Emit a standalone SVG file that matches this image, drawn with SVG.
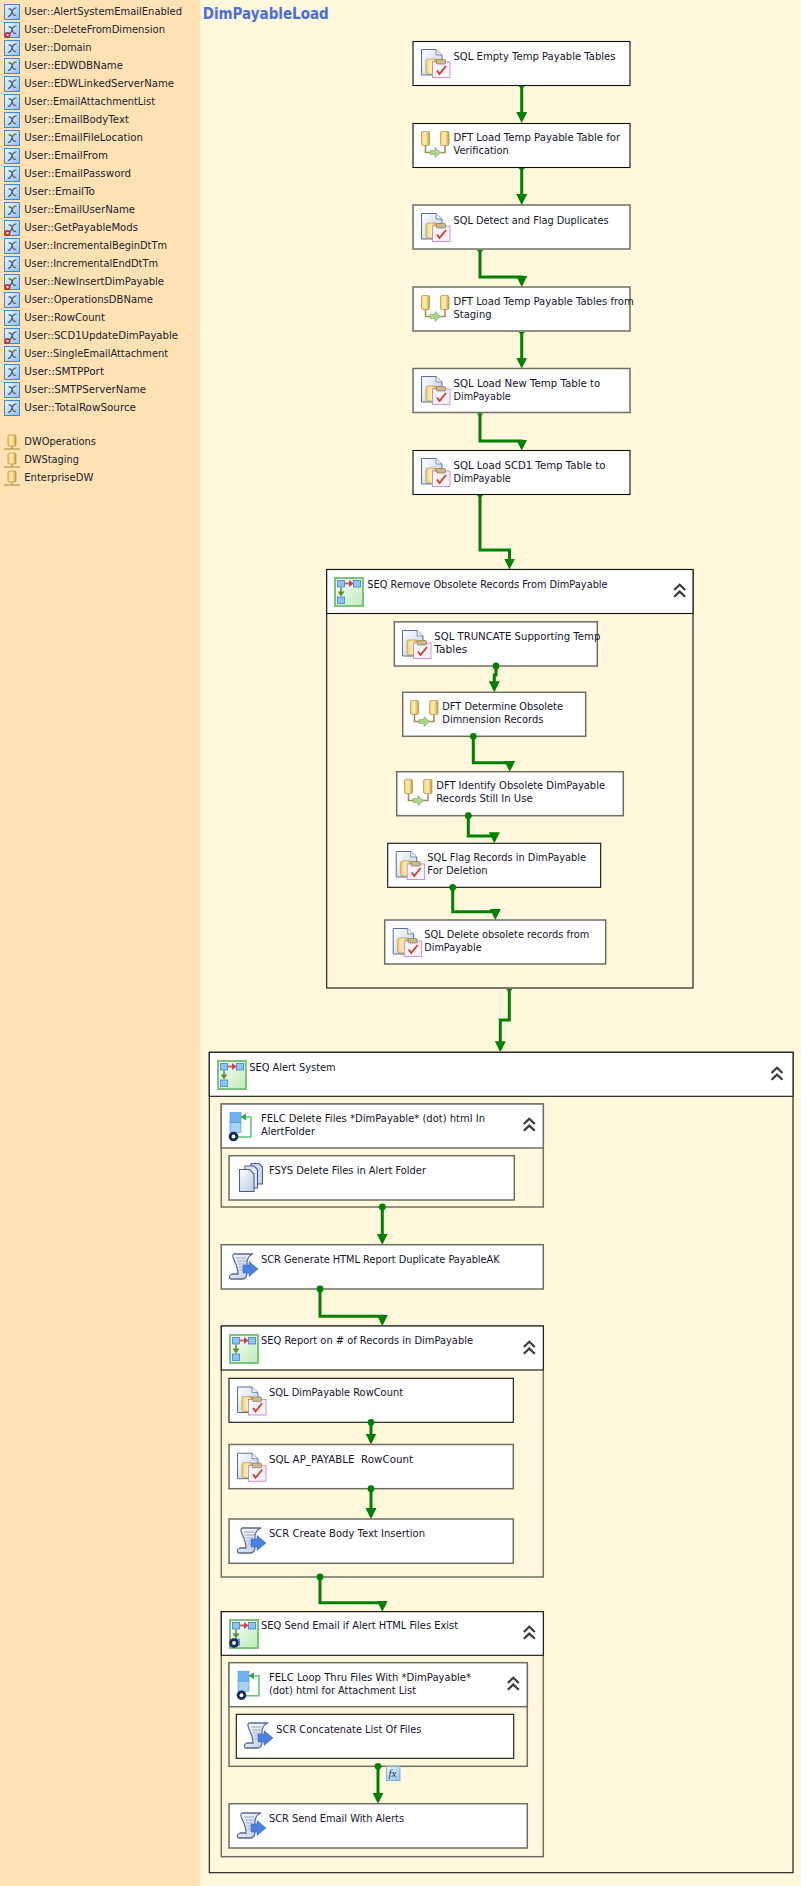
<svg xmlns="http://www.w3.org/2000/svg" width="801" height="1886" viewBox="0 0 801 1886">
<style>
text{font-family:"DejaVu Sans","Noto Sans",sans-serif;font-size:11px;fill:#14142a;white-space:pre}
.title{font-family:"DejaVu Sans",sans-serif;font-size:15px;font-weight:bold;fill:#4a6fdc}
.v{font-size:11px;fill:#20202c}
.fx{font-family:"Liberation Serif",serif;font-style:italic;font-size:11px;fill:#234}
.k{fill:#fff;stroke:#101010;stroke-width:1.1}
.g{fill:#fff;stroke:#6f6f62;stroke-width:1.5}
.cb{fill:#fff8dc;stroke:#101010;stroke-width:1.1}
.cg{fill:#fff8dc;stroke:#6f6f62;stroke-width:1.5}
.c{fill:none;stroke:#008000;stroke-width:3}
.a{marker-end:url(#arrow)}
.s{marker-start:url(#cap)}
.d{marker-start:url(#dot)}
</style>
<defs>
<marker id="arrow" markerUnits="userSpaceOnUse" markerWidth="12" markerHeight="12" viewBox="0 0 12 12" refX="8" refY="6" orient="auto"><path d="M0,0.5 L11,6 L0,11.5 Z" fill="#008000"/></marker>
<marker id="cap" markerUnits="userSpaceOnUse" markerWidth="8" markerHeight="8" viewBox="-4 -4 8 8" refX="0" refY="0" orient="auto"><path d="M0,-3.3 L3,0 L0,3.3 Z" fill="#008000"/></marker>
<marker id="dot" markerUnits="userSpaceOnUse" markerWidth="8" markerHeight="8" viewBox="-4 -4 8 8" refX="0" refY="0" orient="auto"><circle r="3.4" fill="#008000"/></marker>
<linearGradient id="gb" x1="0" y1="0" x2="1" y2="1"><stop offset="0" stop-color="#f2f8ff"/><stop offset="1" stop-color="#8cc0ee"/></linearGradient>
<linearGradient id="gy" x1="0" y1="0" x2="1" y2="0"><stop offset="0" stop-color="#f4d070"/><stop offset=".5" stop-color="#fdf0b8"/><stop offset="1" stop-color="#d09a30"/></linearGradient>
<linearGradient id="gd" x1="0" y1="0" x2="1" y2="1"><stop offset="0" stop-color="#ffffff"/><stop offset="1" stop-color="#bccbe6"/></linearGradient>
<linearGradient id="gs" x1="0" y1="0" x2="1" y2="1"><stop offset="0" stop-color="#ffffff"/><stop offset="1" stop-color="#bdeab5"/></linearGradient>
<g id="var"><rect x=".5" y=".5" width="15" height="15" fill="url(#gb)" stroke="#3f86d8"/><path d="M4,12.5 C6,12.5 7,11 8,8 C9,5 10,3.5 12.5,4 M4.5,5 C7,4.5 8,6 8.5,8.5 C9,11 10,12 12,11" fill="none" stroke="#4a4f5c" stroke-width="1.1"/></g>
<g id="varm"><use href="#var"/><circle cx="3.5" cy="13" r="3" fill="#d02818"/><circle cx="3.5" cy="13" r="1.2" fill="#fff"/></g>
<g id="conn"><path d="M0,15 H16 M8,12 V15" stroke="#a0842a" fill="none"/><rect x="4" y="1" width="8" height="11" rx="1.5" fill="url(#gy)" stroke="#b08a30" stroke-width=".7"/></g>
<g id="sql"><path d="M.5,.5 H15 L21,6 V26 H.5 Z" fill="url(#gd)" stroke="#5a6e9c"/><path d="M15,.5 V6 H21" fill="#e8eef8" stroke="#5a6e9c" stroke-width=".7"/><rect x="5" y="10" width="11" height="15" rx="2" fill="url(#gy)" stroke="#b58f3a" stroke-width=".7"/><rect x="11.5" y="13" width="17.5" height="15.5" fill="#f6f3fb" stroke="#c878c8" stroke-width=".8"/><rect x="15.5" y="10.5" width="9" height="4.5" rx="1" fill="#cdb988" stroke="#7c6a3a" stroke-width=".6"/><path d="M16,21.5 L18.5,25 L25,17" fill="none" stroke="#d83a28" stroke-width="1.8"/></g>
<g id="dft"><rect x=".5" y=".5" width="8" height="14" rx="1.5" fill="url(#gy)" stroke="#b58f3a" stroke-width=".7"/><rect x="19.5" y=".5" width="8.5" height="14" rx="1.5" fill="url(#gy)" stroke="#b58f3a" stroke-width=".7"/><path d="M4.5,14.5 V21.5 H24 V14.5" fill="none" stroke="#a58e55" stroke-width="1.6"/><path d="M9,19.5 H14 V16.5 L19.5,21.5 L14,26.5 V23.5 H9 Z" fill="#a8d88a" stroke="#7aa060" stroke-width=".6"/></g>
<g id="seq"><rect x="1" y="1" width="28" height="28" fill="url(#gs)" stroke="#7cc47c" stroke-width="2"/><g fill="#8cc4f4" stroke="#3c80d0" stroke-width=".8"><rect x="3.5" y="3.5" width="7" height="6.5"/><rect x="19.5" y="3.5" width="7" height="6.5"/><rect x="3.5" y="20" width="7" height="6.5"/></g><path d="M11,6.5 H16" stroke="#d85050" stroke-width="1.8"/><path d="M15,3 L19.5,6.5 L15,10 Z" fill="#d04040"/><path d="M7,10.5 V15" stroke="#609040" stroke-width="1.6"/><path d="M3.5,14.5 L7,19.5 L10.5,14.5 Z" fill="#5f8f30"/></g>
<g id="gear"><circle cx="0" cy="0" r="4.8" fill="#1c2c58"/><circle cx="0" cy="0" r="1.9" fill="#fff"/></g>
<g id="felc"><rect x="1" y=".5" width="11" height="10" fill="#6fb4f2" stroke="#4a90e0" stroke-width=".6"/><rect x="1" y="10.500" width="11" height="10" fill="#a4d2f8" stroke="#4a90e0" stroke-width=".6"/><path d="M12,5 H22 V25 H9" fill="none" stroke="#58c870" stroke-width="1.5"/><path d="M11.500,5 L17,1.500 V8.500 Z" fill="#30a848"/><use href="#gear" x="4.500" y="24.500"/></g>
<g id="fsys"><g stroke="#4a5c88" stroke-width="1.1"><path d="M12,.5 H20 L23.500,4 V21 H12 Z" fill="#cdd8ee"/><path d="M6,3 H15 L18.500,6.500 V25 H6 Z" fill="#dfe7f6"/><path d="M.5,6.500 H10.500 L15,11 V28.500 H.5 Z" fill="url(#gd)"/></g></g>
<g id="scr"><path d="M5,1 H24 C21,2 19,4 18,8 V20 C18,24 16,25.500 14,26 H2 C0,26 -.5,22 3,21 H9 C9,16 7,11 5.500,8 C4,5 3,2 5,1 Z" fill="url(#gd)" stroke="#5a6a92" stroke-width="1.3"/><path d="M7,5 H17 M8,8 H17 M9,11 H16 M10,14 H16 M10.500,17 H16" stroke="#98a6c2" stroke-width="1"/><path d="M14,12 H20 V8.500 L29,16 L20,23.500 V20 H14 Z" fill="#4a80e0" stroke="#3060b0" stroke-width=".5"/></g>
<g id="chev"><path d="M-5.500,6 L0,.8 L5.500,6 M-5.500,12.800 L0,7.600 L5.500,12.800" fill="none" stroke="#3a3a36" stroke-width="2.2"/></g>
</defs>

<rect width="801" height="1886" fill="#fff8dc"/>
<rect id="panel" width="200" height="1886" fill="#ffe2b4"/>
<g id="variables">
<use href="#var" x="4" y="4"/><text class="v" x="24.300" y="15.300" textLength="157.700" lengthAdjust="spacingAndGlyphs">User::AlertSystemEmailEnabled</text>
<use href="#varm" x="4" y="22"/><text class="v" x="24.300" y="33.300" textLength="140.700" lengthAdjust="spacingAndGlyphs">User::DeleteFromDimension</text>
<use href="#var" x="4" y="40"/><text class="v" x="24.300" y="51.300" textLength="67.300" lengthAdjust="spacingAndGlyphs">User::Domain</text>
<use href="#var" x="4" y="58"/><text class="v" x="24.300" y="69.300" textLength="98.700" lengthAdjust="spacingAndGlyphs">User::EDWDBName</text>
<use href="#var" x="4" y="76"/><text class="v" x="24.300" y="87.300" textLength="149.700" lengthAdjust="spacingAndGlyphs">User::EDWLinkedServerName</text>
<use href="#var" x="4" y="94"/><text class="v" x="24.300" y="105.300" textLength="130.700" lengthAdjust="spacingAndGlyphs">User::EmailAttachmentList</text>
<use href="#var" x="4" y="112"/><text class="v" x="24.300" y="123.300" textLength="104.700" lengthAdjust="spacingAndGlyphs">User::EmailBodyText</text>
<use href="#var" x="4" y="130"/><text class="v" x="24.300" y="141.300" textLength="118.700" lengthAdjust="spacingAndGlyphs">User::EmailFileLocation</text>
<use href="#var" x="4" y="148"/><text class="v" x="24.300" y="159.300" textLength="83.700" lengthAdjust="spacingAndGlyphs">User::EmailFrom</text>
<use href="#var" x="4" y="166"/><text class="v" x="24.300" y="177.300" textLength="106.700" lengthAdjust="spacingAndGlyphs">User::EmailPassword</text>
<use href="#var" x="4" y="184"/><text class="v" x="24.300" y="195.300" textLength="70.700" lengthAdjust="spacingAndGlyphs">User::EmailTo</text>
<use href="#var" x="4" y="202"/><text class="v" x="24.300" y="213.300" textLength="110.700" lengthAdjust="spacingAndGlyphs">User::EmailUserName</text>
<use href="#varm" x="4" y="220"/><text class="v" x="24.300" y="231.300" textLength="113.700" lengthAdjust="spacingAndGlyphs">User::GetPayableMods</text>
<use href="#var" x="4" y="238"/><text class="v" x="24.300" y="249.300" textLength="142.700" lengthAdjust="spacingAndGlyphs">User::IncrementalBeginDtTm</text>
<use href="#var" x="4" y="256"/><text class="v" x="24.300" y="267.300" textLength="133.700" lengthAdjust="spacingAndGlyphs">User::IncrementalEndDtTm</text>
<use href="#varm" x="4" y="274"/><text class="v" x="24.300" y="285.300" textLength="139.700" lengthAdjust="spacingAndGlyphs">User::NewInsertDimPayable</text>
<use href="#var" x="4" y="292"/><text class="v" x="24.300" y="303.300" textLength="128.700" lengthAdjust="spacingAndGlyphs">User::OperationsDBName</text>
<use href="#var" x="4" y="310"/><text class="v" x="24.300" y="321.300" textLength="80.700" lengthAdjust="spacingAndGlyphs">User::RowCount</text>
<use href="#varm" x="4" y="328"/><text class="v" x="24.300" y="339.300" textLength="153.700" lengthAdjust="spacingAndGlyphs">User::SCD1UpdateDimPayable</text>
<use href="#var" x="4" y="346"/><text class="v" x="24.300" y="357.300" textLength="143.700" lengthAdjust="spacingAndGlyphs">User::SingleEmailAttachment</text>
<use href="#var" x="4" y="364"/><text class="v" x="24.300" y="375.300" textLength="79.700" lengthAdjust="spacingAndGlyphs">User::SMTPPort</text>
<use href="#var" x="4" y="382"/><text class="v" x="24.300" y="393.300" textLength="121.700" lengthAdjust="spacingAndGlyphs">User::SMTPServerName</text>
<use href="#var" x="4" y="400"/><text class="v" x="24.300" y="411.300" textLength="111.700" lengthAdjust="spacingAndGlyphs">User::TotalRowSource</text>
</g>
<g id="connections">
<use href="#conn" x="4" y="434"/><text class="v" x="24.300" y="445.300" textLength="71.700" lengthAdjust="spacingAndGlyphs">DWOperations</text>
<use href="#conn" x="4" y="452"/><text class="v" x="24.300" y="463.300" textLength="54.700" lengthAdjust="spacingAndGlyphs">DWStaging</text>
<use href="#conn" x="4" y="470"/><text class="v" x="24.300" y="481.300" textLength="69" lengthAdjust="spacingAndGlyphs">EnterpriseDW</text>
</g>
<text id="package-title" class="title" x="202.700" y="18.800" textLength="126" lengthAdjust="spacingAndGlyphs">DimPayableLoad</text>

<g id="n1"><rect class="k" x="413" y="41.500" width="217" height="44"/><use href="#sql" x="421" y="49"/><text x="453.500" y="60" textLength="162" lengthAdjust="spacingAndGlyphs">SQL Empty Temp Payable Tables</text></g>
<g id="n2"><rect class="k" x="413" y="123.500" width="217" height="44"/><use href="#dft" x="421" y="131"/><text x="453.500" y="141" textLength="166.700" lengthAdjust="spacingAndGlyphs">DFT Load Temp Payable Table for</text><text x="453.500" y="154" textLength="55.300" lengthAdjust="spacingAndGlyphs">Verification</text></g>
<g id="n3"><rect class="g" x="413" y="205" width="217" height="44"/><use href="#sql" x="421" y="213"/><text x="453.500" y="224" textLength="155" lengthAdjust="spacingAndGlyphs">SQL Detect and Flag Duplicates</text></g>
<g id="n4"><rect class="g" x="413" y="287" width="217" height="44"/><use href="#dft" x="421" y="295"/><text x="453.500" y="305" textLength="180.300" lengthAdjust="spacingAndGlyphs">DFT Load Temp Payable Tables from</text><text x="453.500" y="318" textLength="38" lengthAdjust="spacingAndGlyphs">Staging</text></g>
<g id="n5"><rect class="g" x="413" y="368.500" width="217" height="44"/><use href="#sql" x="421" y="376"/><text x="453.500" y="387" textLength="146.700" lengthAdjust="spacingAndGlyphs">SQL Load New Temp Table to</text><text x="453.500" y="400" textLength="57.300" lengthAdjust="spacingAndGlyphs">DimPayable</text></g>
<g id="n6"><rect class="k" x="413" y="450.500" width="217" height="44"/><use href="#sql" x="421" y="458"/><text x="453.500" y="469" textLength="152" lengthAdjust="spacingAndGlyphs">SQL Load SCD1 Temp Table to</text><text x="453.500" y="482" textLength="57.300" lengthAdjust="spacingAndGlyphs">DimPayable</text></g>

<g id="seq1"><rect class="cb" x="326.700" y="569.500" width="366.300" height="418.500"/><rect class="k" x="326.700" y="569.500" width="366.300" height="44"/><use href="#seq" x="334" y="577"/><text x="367.300" y="588" textLength="240.300" lengthAdjust="spacingAndGlyphs">SEQ Remove Obsolete Records From DimPayable</text><use href="#chev" x="679.700" y="584"/></g>
<g id="t1"><rect class="g" x="394.300" y="621.800" width="203" height="44.200"/><use href="#sql" x="402" y="630"/><text x="434.300" y="640" textLength="166" lengthAdjust="spacingAndGlyphs">SQL TRUNCATE Supporting Temp</text><text x="434.300" y="653" textLength="33" lengthAdjust="spacingAndGlyphs">Tables</text></g>
<g id="t2"><rect class="g" x="402.700" y="692.300" width="183" height="44"/><use href="#dft" x="410" y="700"/><text x="442.300" y="710" textLength="120.700" lengthAdjust="spacingAndGlyphs">DFT Determine Obsolete</text><text x="442.300" y="723" textLength="101" lengthAdjust="spacingAndGlyphs">Dimnension Records</text></g>
<g id="t3"><rect class="g" x="396.700" y="771.700" width="226.600" height="44"/><use href="#dft" x="404" y="779"/><text x="436.300" y="789" textLength="168.700" lengthAdjust="spacingAndGlyphs">DFT Identify Obsolete DimPayable</text><text x="436.300" y="802" textLength="96.300" lengthAdjust="spacingAndGlyphs">Records Still In Use</text></g>
<g id="t4"><rect class="k" x="387.700" y="843.300" width="213" height="44"/><use href="#sql" x="395.700" y="851"/><text x="427.300" y="861" textLength="158.700" lengthAdjust="spacingAndGlyphs">SQL Flag Records in DimPayable</text><text x="427.300" y="874" textLength="60.300" lengthAdjust="spacingAndGlyphs">For Deletion</text></g>
<g id="t5"><rect class="g" x="384.700" y="920" width="221" height="44"/><use href="#sql" x="392.700" y="928"/><text x="424.300" y="938" textLength="165" lengthAdjust="spacingAndGlyphs">SQL Delete obsolete records from</text><text x="424.300" y="951" textLength="57.300" lengthAdjust="spacingAndGlyphs">DimPayable</text></g>

<g id="seq2"><rect class="cb" x="209.300" y="1052.300" width="583.700" height="820.400"/><rect class="k" x="209.300" y="1052.300" width="583.700" height="44"/><use href="#seq" x="217" y="1060"/><text x="249.300" y="1071" textLength="86.300" lengthAdjust="spacingAndGlyphs">SEQ Alert System</text><use href="#chev" x="777" y="1067"/></g>
<g id="felc1"><rect class="cg" x="221.300" y="1104" width="322" height="103"/><rect class="g" x="221.300" y="1104" width="322" height="44"/><use href="#felc" x="229" y="1112"/><text x="261" y="1122" textLength="224" lengthAdjust="spacingAndGlyphs">FELC Delete Files *DimPayable* (dot) html In</text><text x="261" y="1135" textLength="54" lengthAdjust="spacingAndGlyphs">AlertFolder</text><use href="#chev" x="529.300" y="1118"/></g>
<g id="fsys1"><rect class="g" x="229" y="1155.700" width="285.300" height="44.300"/><use href="#fsys" x="239" y="1163"/><text x="269" y="1174" textLength="157" lengthAdjust="spacingAndGlyphs">FSYS Delete Files in Alert Folder</text></g>
<g id="scr1"><rect class="g" x="221.300" y="1244.700" width="322" height="44.300"/><use href="#scr" x="229" y="1253"/><text x="261" y="1263" textLength="238.700" lengthAdjust="spacingAndGlyphs">SCR Generate HTML Report Duplicate PayableAK</text></g>
<g id="seq3"><rect class="cg" x="221.300" y="1326" width="322" height="251"/><rect class="k" x="221.300" y="1326" width="322" height="44"/><use href="#seq" x="229" y="1334"/><text x="261" y="1344" textLength="212" lengthAdjust="spacingAndGlyphs">SEQ Report on # of Records in DimPayable</text><use href="#chev" x="529.300" y="1341"/></g>
<g id="sqla"><rect class="k" x="229" y="1378.300" width="284.300" height="44"/><use href="#sql" x="237" y="1386.500"/><text x="269" y="1396" textLength="134" lengthAdjust="spacingAndGlyphs">SQL DimPayable RowCount</text></g>
<g id="sqlb"><rect class="g" x="229" y="1444.500" width="284.300" height="44.200"/><use href="#sql" x="237" y="1452.700"/><text x="269" y="1463" textLength="144" lengthAdjust="spacingAndGlyphs" xml:space="preserve">SQL AP_PAYABLE  RowCount</text></g>
<g id="scrc"><rect class="g" x="229" y="1519" width="284.300" height="44.300"/><use href="#scr" x="237" y="1527"/><text x="269" y="1537" textLength="156" lengthAdjust="spacingAndGlyphs">SCR Create Body Text Insertion</text></g>
<g id="seq4"><rect class="cg" x="221.300" y="1611.700" width="322" height="245"/><rect class="k" x="221.300" y="1611.700" width="322" height="43.600"/><use href="#seq" x="229" y="1619"/><use href="#gear" x="234" y="1643"/><text x="261" y="1629" textLength="197" lengthAdjust="spacingAndGlyphs">SEQ Send Email if Alert HTML Files Exist</text><use href="#chev" x="529.300" y="1626"/></g>
<g id="felc2"><rect class="cg" x="229" y="1662.700" width="298.300" height="103.600"/><rect class="g" x="229" y="1662.700" width="298.300" height="44"/><use href="#felc" x="237" y="1670.700"/><text x="269" y="1681" textLength="202" lengthAdjust="spacingAndGlyphs">FELC Loop Thru Files With *DimPayable*</text><text x="269" y="1694" textLength="147" lengthAdjust="spacingAndGlyphs">(dot) html for Attachment List</text><use href="#chev" x="513.300" y="1677"/></g>
<g id="scrd"><rect class="k" x="236.300" y="1714.300" width="277.400" height="44"/><use href="#scr" x="244" y="1722"/><text x="276.300" y="1733" textLength="145" lengthAdjust="spacingAndGlyphs">SCR Concatenate List Of Files</text></g>
<g id="scre"><rect class="g" x="229" y="1803.700" width="298.300" height="44.300"/><use href="#scr" x="237" y="1812"/><text x="269" y="1822" textLength="135" lengthAdjust="spacingAndGlyphs">SCR Send Email With Alerts</text></g>

<g id="connectors">
<path class="c a s" d="M521.700,86 V120"/>
<path class="c a s" d="M521.700,168 V202"/>
<path class="c a s" d="M480,250 V277 H521.700 V284"/>
<path class="c a s" d="M521.700,332 V365.500"/>
<path class="c a s" d="M480,413.500 V441 H521.700 V447.500"/>
<path class="c a s" d="M480,495 V550 H509.500 V566.500"/>
<path class="c a d" d="M496,666 V675 H494.300 V689.300"/>
<path class="c a d" d="M473.300,736.300 V762.700 H509.700 V768.700"/>
<path class="c a d" d="M468.300,815.700 V836 H494.300 V840.300"/>
<path class="c a d" d="M452.700,887.300 V911.700 H495.300 V917"/>
<path class="c a s" d="M509.300,989 V1020 H500.300 V1049.300"/>
<path class="c a d" d="M382.300,1207 V1241.700"/>
<path class="c a d" d="M320,1289 V1316.300 H382.300 V1323"/>
<path class="c a d" d="M371,1422.300 V1441.500"/>
<path class="c a d" d="M371,1488.700 V1516"/>
<path class="c a d" d="M320,1577 V1602.700 H382.300 V1608.700"/>
<path class="c a d" d="M378,1766.300 V1800.700"/>
</g>
<g id="fx-badge"><rect x="386.500" y="1766.500" width="13.500" height="14" fill="url(#gb)" stroke="#7ab0e4"/><text class="fx" x="388.500" y="1777">fx</text></g>
</svg>
